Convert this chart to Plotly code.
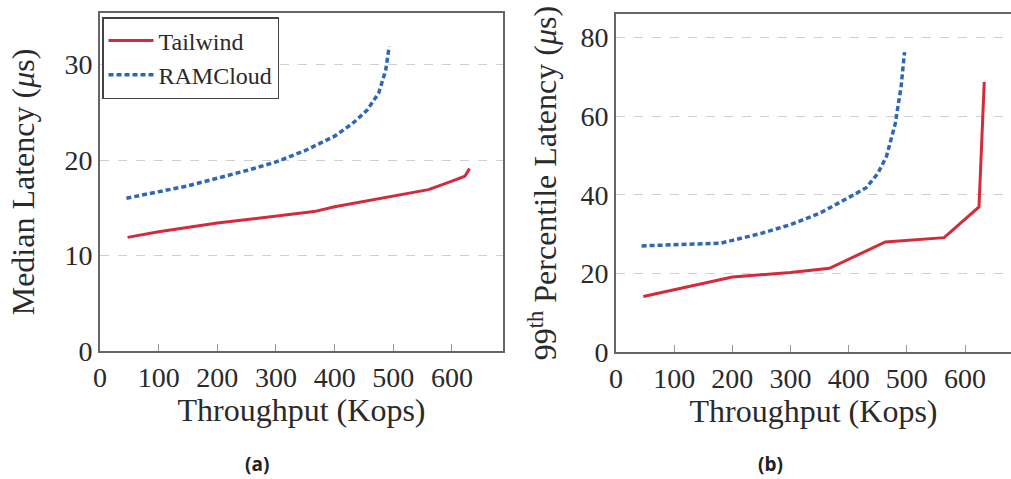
import plotly.graph_objects as go

# Median latency (panel a)
tw_med_x = [47, 100, 200, 300, 365, 400, 500, 560, 600, 622, 630]
tw_med_y = [11.9, 12.5, 13.4, 14.1, 14.6, 15.1, 16.2, 16.9, 17.8, 18.3, 19.1]
rc_med_x = [45, 100, 150, 200, 250, 300, 350, 400, 430, 455, 475, 487, 493]
rc_med_y = [16.0, 16.7, 17.3, 18.1, 18.9, 19.8, 21.0, 22.5, 23.8, 25.2, 27.0, 29.4, 31.9]

# 99th percentile latency (panel b)
tw_p99_x = [47, 200, 300, 367, 463, 500, 564, 624, 633]
tw_p99_y = [14.1, 19.1, 20.2, 21.3, 28.0, 28.4, 29.1, 36.9, 68.7]
rc_p99_x = [44, 100, 180, 200, 250, 300, 350, 400, 430, 450, 465, 480, 490, 496]
rc_p99_y = [27.0, 27.2, 27.7, 28.4, 30.2, 32.4, 35.3, 39.3, 41.8, 45.4, 49.8, 58.1, 67.4, 76.3]

x_ticks = [0, 100, 200, 300, 400, 500, 600]
y_ticks_a = [0, 10, 20, 30]
y_ticks_b = [0, 20, 40, 60, 80]

RED = "#d42a3c"
BLUE = "#2e67b8"
SERIF = "Liberation Serif, Times New Roman, serif"
W, H = 1011, 479

fig = go.Figure()
fig.add_trace(go.Scatter(x=tw_med_x, y=tw_med_y, mode="lines", name="Tailwind",
                         line=dict(color=RED, width=3), xaxis="x", yaxis="y"))
fig.add_trace(go.Scatter(x=rc_med_x, y=rc_med_y, mode="lines", name="RAMCloud",
                         line=dict(color=BLUE, width=3.5, dash="5px,3px"), xaxis="x", yaxis="y"))
fig.add_trace(go.Scatter(x=tw_p99_x, y=tw_p99_y, mode="lines", name="Tailwind", showlegend=False,
                         line=dict(color=RED, width=3), xaxis="x2", yaxis="y2"))
fig.add_trace(go.Scatter(x=rc_p99_x, y=rc_p99_y, mode="lines", name="RAMCloud", showlegend=False,
                         line=dict(color=BLUE, width=3.5, dash="5px,3px"), xaxis="x2", yaxis="y2"))

tickfont = dict(family=SERIF, size=28, color="#2a2a2a")
titlefont = dict(family=SERIF, size=32, color="#2a2a2a")
AXIS = "#666666"

common_x = dict(showline=True, linecolor=AXIS, linewidth=1.8, ticks="inside", ticklen=7,
                tickcolor="#999999", tickwidth=1, showgrid=False, zeroline=False, tickfont=tickfont,
                automargin=False, tickvals=x_ticks,
                title=dict(text="Throughput (Kops)", font=titlefont, standoff=0))
common_y = dict(showline=True, linecolor=AXIS, linewidth=1.8, ticks="",
                showgrid=True, gridcolor="#cfcfcf", griddash="dash",
                gridwidth=1, zeroline=False, tickfont=tickfont, automargin=False)

fig.update_layout(
    width=W, height=H, margin=dict(l=0, r=0, t=0, b=0, autoexpand=False),
    paper_bgcolor="white", plot_bgcolor="white", showlegend=True,
    font=dict(family=SERIF, color="#2a2a2a"),
    xaxis=dict(domain=[100 / W, 503 / W], range=[0, 687], anchor="y", mirror=True, **common_x),
    yaxis=dict(domain=[1 - 351 / H, 1 - 13 / H], range=[0, 35.4], anchor="x", mirror=True,
               tickvals=y_ticks_a,
               title=dict(text="Median Latency (<i>μ</i>s)", font=titlefont, standoff=20), **common_y),
    xaxis2=dict(domain=[616 / W, 1.0], range=[0, 679], anchor="y2", mirror=True, **common_x),
    yaxis2=dict(domain=[1 - 352 / H, 1 - 14 / H], range=[0, 86], anchor="x2", mirror=False,
                tickvals=y_ticks_b,
                title=dict(text="99<sup>th</sup> Percentile Latency (<i>μ</i>s)", font=titlefont, standoff=14),
                **common_y),
    legend=dict(x=102 / W, y=1 - 17 / H, xanchor="left", yanchor="top",
                bgcolor="white", bordercolor="#444", borderwidth=1.5, itemwidth=45,
                font=dict(family=SERIF, size=24, color="#2a2a2a"), tracegroupgap=0),
    annotations=[
        dict(text="<b>(a)</b>", x=257 / W, y=1 - 464 / H, xref="paper", yref="paper",
             xanchor="center", yanchor="middle",
             showarrow=False, font=dict(family="Open Sans", size=19, color="#222")),
        dict(text="<b>(b)</b>", x=770 / W, y=1 - 464 / H, xref="paper", yref="paper",
             xanchor="center", yanchor="middle",
             showarrow=False, font=dict(family="Open Sans", size=19, color="#222")),
    ],
)

fig.write_html("out.html")
